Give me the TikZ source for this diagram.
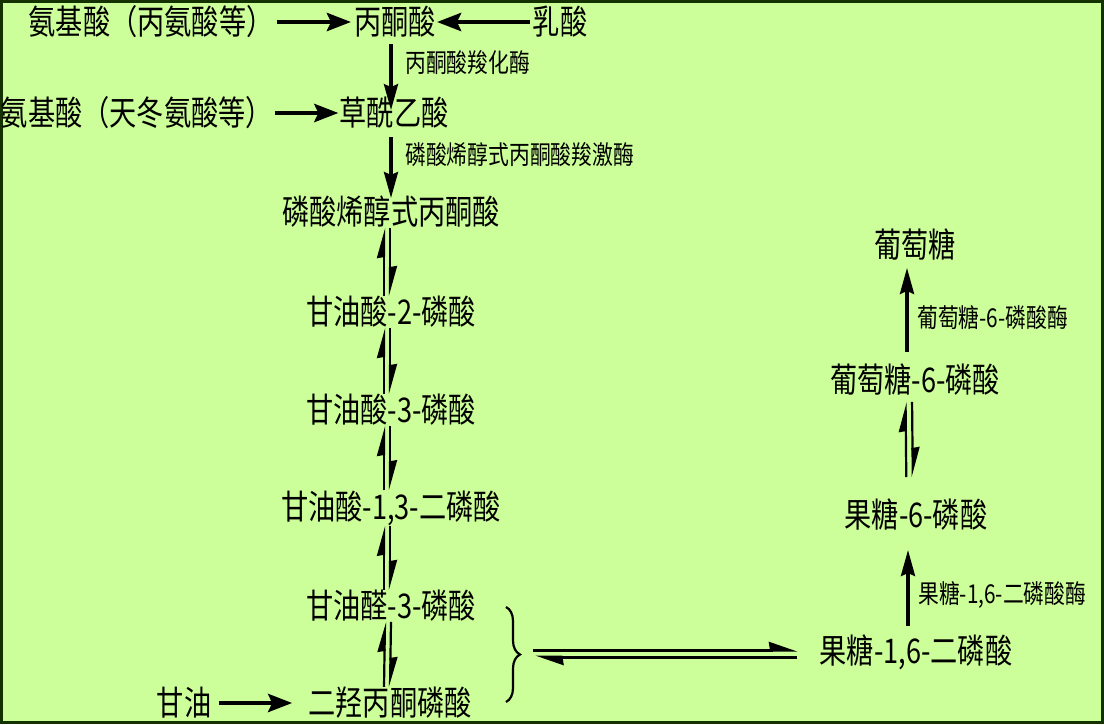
\documentclass[tikz,border=0pt]{standalone}
\usepackage{fontspec}
\newfontfamily\cjk[FakeStretch=0.8]{Noto Sans CJK SC}
\usetikzlibrary{arrows.meta,decorations.pathreplacing}
\definecolor{bgc}{RGB}{204,255,153}
\definecolor{framec}{RGB}{20,50,0}
\begin{document}
\begin{tikzpicture}[x=1pt,y=1pt,
  main/.style={font=\cjk\fontsize{34}{40}\selectfont, inner sep=0pt, anchor=center},
  lab/.style={font=\cjk\fontsize{26}{30}\selectfont, inner sep=0pt, anchor=west},
  bigarrow/.style={line width=4.5pt, -{Stealth[length=24pt,width=18pt,inset=4pt]}},
  varrow/.style={line width=3.5pt, -{Stealth[length=26pt,width=14pt,inset=3pt]}},
  harp/.style={line width=2.2pt, -{Stealth[harpoon,length=26pt,width=14pt,inset=1pt]}},
  hharp/.style={line width=3pt, -{Stealth[harpoon,length=24pt,width=16pt,inset=1pt]}},
  bracestyle/.style={line width=2.2pt, decorate, decoration={brace, amplitude=14pt}}
]
\fill[bgc] (0,0) rectangle (1104,-724);
\draw[framec, line width=3pt] (1.5,-1.5) rectangle (1102.5,-722.5);
\useasboundingbox (0,0) rectangle (1104,-724);

% nodes
\node[main] (aa1) at (151,-22) {氨基酸（丙氨酸等）};
\node[main] (pyr) at (395,-22) {丙酮酸};
\node[main] (lac) at (560,-22) {乳酸};
\node[main] (aa2) at (137,-113) {氨基酸（天冬氨酸等）};
\node[main] (oaa) at (394,-113) {草酰乙酸};
\node[main] (pep) at (391,-212) {磷酸烯醇式丙酮酸};
\node[main] (g2p) at (391,-312) {甘油酸-2-磷酸};
\node[main] (g3p) at (391,-410) {甘油酸-3-磷酸};
\node[main] (bpg) at (391,-508) {甘油酸-1,3-二磷酸};
\node[main] (gap) at (391,-606) {甘油醛-3-磷酸};
\node[main] (gly) at (184,-703) {甘油};
\node[main] (dhap) at (390,-703) {二羟丙酮磷酸};
\node[main] (fbp) at (916,-652) {果糖-1,6-二磷酸};
\node[main] (f6p) at (916,-515) {果糖-6-磷酸};
\node[main] (g6p) at (915,-380) {葡萄糖-6-磷酸};
\node[main] (glc) at (915,-245) {葡萄糖};

% labels
\node[lab] (l1) at (405,-63) {丙酮酸羧化酶};
\node[lab] (l2) at (405,-155) {磷酸烯醇式丙酮酸羧激酶};
\node[lab] (l3) at (918,-595) {果糖-1,6-二磷酸酶};
\node[lab] (l4) at (917,-318) {葡萄糖-6-磷酸酶};

% top arrows
\draw[bigarrow, shorten <=3pt, shorten >=3pt] (aa1.east) -- (pyr.west);
\draw[bigarrow, shorten <=3pt, shorten >=1pt] (lac.west) -- (pyr.east);
\draw[bigarrow, shorten <=2pt, shorten >=1pt] (aa2.east) -- (oaa.west);
\draw[bigarrow, shorten <=8pt, shorten >=16pt] (gly.east) -- (dhap.west);

% vertical arrows
\draw[varrow, shorten <=6pt, shorten >=-13pt] ([xshift=-4]pyr.south) -- ([xshift=-3]oaa.north);
\draw[varrow, shorten <=8pt, shorten >=-2pt] ([xshift=-3]oaa.south) -- ([xshift=0]pep.north);

% harpoon pairs (left column)
\draw[harp] ([xshift=-7]g2p.north) -- ([xshift=-7]pep.south);
\draw[harp] ([xshift=-1]pep.south) -- ([xshift=-1]g2p.north);
\draw[harp] ([xshift=-7]g3p.north) -- ([xshift=-7]g2p.south);
\draw[harp] ([xshift=-1]g2p.south) -- ([xshift=-1]g3p.north);
\draw[harp] ([xshift=-7]bpg.north) -- ([xshift=-7]g3p.south);
\draw[harp] ([xshift=-1]g3p.south) -- ([xshift=-1]bpg.north);
\draw[harp] ([xshift=-7]gap.north) -- ([xshift=-7]bpg.south);
\draw[harp] ([xshift=-1]bpg.south) -- ([xshift=-1]gap.north);
\draw[harp] ([xshift=-6]dhap.north) -- ([xshift=-6]gap.south);
\draw[harp] ([xshift=0]gap.south) -- ([xshift=0]dhap.north);

% right column
\draw[varrow, shorten <=8pt, shorten >=19pt] ([xshift=-8]fbp.north) -- ([xshift=-8]f6p.south);
\draw[harp, shorten <=22pt, shorten >=6pt] ([xshift=-9.5]f6p.north) -- ([xshift=-9.5]g6p.south);
\draw[harp, shorten <=6pt, shorten >=22pt] ([xshift=-3]g6p.south) -- ([xshift=-3]f6p.north);
\draw[varrow, shorten <=12pt, shorten >=7pt] ([xshift=-8]g6p.north) -- ([xshift=-8]glc.south);

% brace and double harpoon
\draw[bracestyle] (506,-607) -- (506,-702);
\coordinate (bt) at (533,-653.5);
\draw[hharp, shorten >=22pt] ([yshift=3.5]bt) -- ([yshift=3.5]bt -| fbp.west);
\draw[hharp, shorten <=22pt, shorten >=2pt] ([yshift=-3.5]bt -| fbp.west) -- ([yshift=-3.5]bt);
\end{tikzpicture}
\end{document}
